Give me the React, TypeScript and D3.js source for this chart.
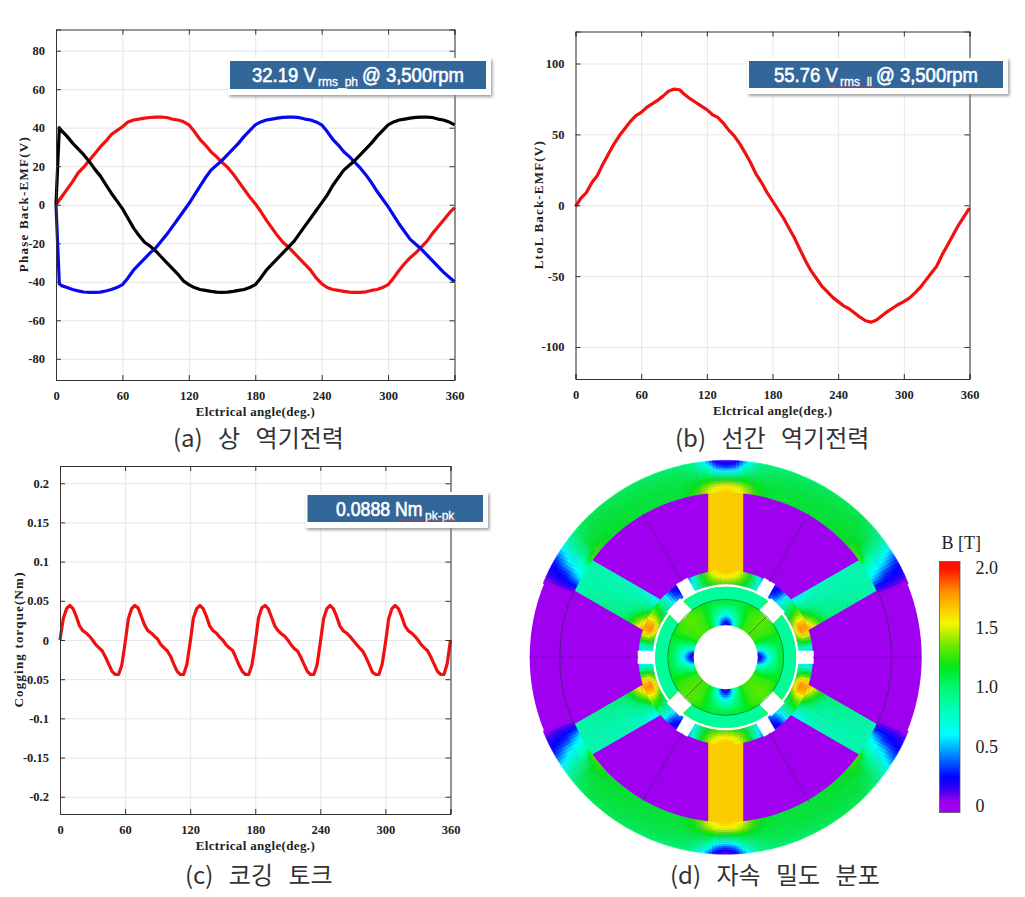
import * as d3 from "d3";
import { useEffect, useRef } from "react";

const xTicks = [0, 60, 120, 180, 240, 300, 360];
const angles5 = d3.range(0, 365, 5);
const anglesSpike = [0, 3, ...d3.range(5, 365, 5)];
const angles3 = d3.range(0, 363, 3);

// phase back-EMF (V)
const phaseRed = [
  0, 4, 8, 12, 16.5, 19.5, 23, 26.5, 30, 33, 36.5, 38.5, 40.5, 43, 44, 44.5, 45, 45.3, 45.5, 45.5, 45.3, 44.5, 44, 43.2, 41.5,
  38, 34, 31, 27.5, 25, 22, 19.5, 16, 12, 8, 4, 0.5, -3.5, -8, -12, -16, -19.5, -22, -25, -28, -31, -34, -38, -41, -43, -44,
  -44.5, -45, -45.4, -45.5, -45.5, -45.2, -44.5, -44, -43, -41.5, -38, -34, -30.5, -27.5, -25, -22, -19, -15, -11.5, -8,
  -4.5, -1.5,
];
const phaseBlack = [
  0, 40, 38.5, 35.5, 32, 29, 26, 22.5, 18.5, 15, 10.5, 6, 2, -2, -7, -12, -16, -19.5, -21.5, -24, -27, -30, -33, -36, -39.5,
  -41.5, -43, -44, -44.5, -45, -45.4, -45.5, -45.4, -45, -44.5, -44, -43, -41.5, -38, -34, -31, -28, -25, -22, -19, -15,
  -11, -7, -3, 1, 5, 10, 14, 18, 20.5, 23, 26, 29, 32, 35.5, 38.5, 41.5, 43, 44, 44.5, 45, 45.4, 45.5, 45.5, 45.3, 44.5, 44,
  43, 41.5,
];
const phaseBlue = [
  0, -41, -42, -43, -44, -44.7, -45.3, -45.5, -45.5, -45.4, -44.8, -44, -43, -41.5, -38, -34, -31, -28, -25, -22.5, -19,
  -15.5, -11.5, -7.5, -3.5, 0.5, 5, 9.5, 14, 18, 20.5, 23, 26, 29, 32, 35.5, 38.5, 41.5, 43, 44, 44.5, 45, 45.4, 45.5, 45.5,
  45.2, 44.5, 44, 43, 41.5, 38, 34, 31, 27.5, 25, 22, 19, 15.5, 11.5, 7, 3, -1, -5.5, -10, -14, -18, -20.5, -23, -26, -29,
  -32, -35, -37.5, -40,
];

// line-to-line back-EMF (V)
const lineToLine = [
  -1, 5, 9, 16, 21, 29, 36, 43, 49, 54, 59, 63, 65.5, 69, 71.5, 74, 77, 80.5, 82, 81.5, 78, 75, 72.5, 70, 67.5, 64, 62, 58,
  53, 49, 43.5, 37, 30, 22, 16, 9, 3, -3, -9, -16, -23, -31, -39, -46, -51.5, -57, -61, -65, -68, -71, -73, -76, -79, -81.5,
  -82.5, -81, -78, -75, -72.5, -70, -68, -65.5, -62, -58, -53, -48, -43, -35, -28, -21, -14, -8, -2,
];

// cogging torque (Nm)
const cogging = [
  0, 0.027, 0.04, 0.044, 0.04, 0.03, 0.018, 0.012, 0.009, 0.005, 0, -0.006, -0.01, -0.014, -0.022, -0.031, -0.04, -0.044, -0.044, -0.032,
  -0.004, 0.027, 0.04, 0.044, 0.041, 0.03, 0.019, 0.012, 0.009, 0.005, 0.001, -0.006, -0.01, -0.014, -0.021, -0.031, -0.04, -0.044, -0.044, -0.031,
  -0.003, 0.028, 0.04, 0.044, 0.04, 0.03, 0.018, 0.012, 0.009, 0.004, 0, -0.006, -0.01, -0.013, -0.022, -0.032, -0.04, -0.044, -0.044, -0.032,
  -0.004, 0.028, 0.041, 0.044, 0.04, 0.029, 0.018, 0.012, 0.008, 0.005, 0, -0.006, -0.011, -0.014, -0.022, -0.031, -0.04, -0.044, -0.044, -0.032,
  -0.003, 0.027, 0.04, 0.044, 0.04, 0.03, 0.018, 0.012, 0.009, 0.005, 0, -0.005, -0.01, -0.014, -0.022, -0.031, -0.041, -0.044, -0.044, -0.031,
  -0.004, 0.027, 0.04, 0.044, 0.04, 0.03, 0.018, 0.012, 0.009, 0.005, 0, -0.006, -0.01, -0.014, -0.022, -0.031, -0.04, -0.044, -0.044, -0.03, 0,
];

// flux density colour map
const bLevels = [0, 0.05, 0.12, 0.24, 0.42, 0.6, 0.8, 1.0, 1.17, 1.35, 1.54, 1.8, 2.0];
const bColors = ["#a000f0", "#9800ec", "#4400f0", "#0000ff", "#0080ff", "#00ffff", "#00ffb8", "#00f870", "#00e818", "#70e800", "#f8f800", "#ff9000", "#ff1000"];
const bTicks = [0, 0.5, 1.0, 1.5, 2.0];
const bColor = d3.scaleLinear<string>().domain(bLevels).range(bColors).clamp(true);

// flux density readings, one quadrant (radius in px of the drawn motor, angle in deg)
const yokeRadii = [166, 172, 178, 184, 190, 196];
const yokeAngles = [22, 24, 26, 28, 30, 33, 36, 40, 45, 60, 75, 80, 84, 87, 90];
const yokeB = [
  [0, 0.12, 0.3, 0.55, 0.65, 0.8, 1.3, 1.25, 1.15, 1.12, 1.12, 1.25, 1.5, 1.6, 1.65],
  [0, 0.15, 0.28, 0.45, 0.6, 0.75, 1.0, 1.2, 1.15, 1.12, 1.12, 1.2, 1.4, 1.5, 1.52],
  [0, 0.15, 0.25, 0.35, 0.55, 0.72, 0.92, 1.12, 1.12, 1.12, 1.1, 1.12, 1.15, 1.2, 1.2],
  [0, 0.15, 0.24, 0.3, 0.5, 0.7, 0.9, 1.08, 1.12, 1.1, 1.08, 1.05, 1.0, 0.85, 0.8],
  [0, 0.12, 0.22, 0.27, 0.4, 0.62, 0.85, 1.04, 1.1, 1.08, 1.05, 1.0, 0.8, 0.45, 0.35],
  [0, 0.1, 0.2, 0.24, 0.32, 0.55, 0.8, 1.0, 1.08, 1.05, 1.0, 0.95, 0.55, 0.22, 0.12],
];
const shoeRadii = [73, 80, 87];
const shoeAngles = [0, 5, 8, 12, 16, 20, 24, 28, 32, 38, 44, 50, 55, 60, 65, 70, 75, 80, 85, 90];
const shoeB = [
  [0.7, 0.7, 0.85, 1.1, 1.3, 1.45, 1.4, 1.25, 1.1, 0.95, 0.75, 0.5, 0.4, 0.45, 0.65, 0.95, 1.1, 1.2, 1.25, 1.3],
  [0.55, 0.65, 0.9, 1.25, 1.6, 1.8, 1.75, 1.5, 1.25, 1.0, 0.7, 0.35, 0.25, 0.35, 0.6, 0.95, 1.2, 1.4, 1.5, 1.55],
  [0.5, 0.55, 0.85, 1.2, 1.55, 1.78, 1.72, 1.5, 1.35, 1.1, 0.7, 0.28, 0.18, 0.25, 0.5, 0.95, 1.25, 1.5, 1.65, 1.7],
];
const spokeAlong = [82, 88, 94, 100, 110, 160, 168, 178];
const spokeAcross = [-17.5, -9, 0, 9, 17.5];
const spokeB = [
  [0.45, 0.85, 1.3, 1.6, 1.78],
  [0.55, 0.85, 1.2, 1.5, 1.7],
  [0.6, 0.8, 1.05, 1.3, 1.45],
  [0.7, 0.82, 0.95, 1.1, 1.2],
  [0.78, 0.82, 0.86, 0.92, 1.0],
  [0.84, 0.84, 0.84, 0.84, 0.84],
  [0.84, 0.82, 0.8, 0.78, 0.8],
  [0.8, 0.75, 0.7, 0.6, 0.6],
];
const coreRadii = [33, 38, 43, 48, 53, 58];
const coreAngles = [0, 6, 12, 20, 30, 45];
const coreB = [
  [0.12, 0.25, 0.55, 0.95, 1.25, 1.3],
  [0.35, 0.45, 0.65, 1.0, 1.25, 1.3],
  [0.62, 0.7, 0.85, 1.05, 1.25, 1.32],
  [0.85, 0.88, 0.95, 1.1, 1.27, 1.32],
  [1.05, 1.05, 1.05, 1.12, 1.25, 1.32],
  [1.1, 1.1, 1.1, 1.12, 1.2, 1.3],
];
const sidePoles = [30, 150, 210, 330];
const verticalPoles = [90, 270];
const statorSlots = [0, 60, 120, 180, 240, 300];
const rotorSlots = [45, 135, 225, 315];
const magnets = [0, 90, 180, 270];

const arcPath = d3.arc();
const sector = (r0: number, r1: number, a0: number, a1: number) =>
  arcPath({
    innerRadius: r0,
    outerRadius: r1,
    startAngle: ((90 - a1) * Math.PI) / 180,
    endAngle: ((90 - a0) * Math.PI) / 180,
  }) as string;

const indexOf = (list: number[]) =>
  d3.scaleLinear().domain(list).range(list.map((_, i) => i)).clamp(true);

// bilinear lookup in a reading table
const lookup = (rows: number[], cols: number[], table: number[][]) => {
  const ri = indexOf(rows);
  const ci = indexOf(cols);
  return (r: number, c: number) => {
    const a = ri(r);
    const b = ci(c);
    const a0 = Math.floor(a);
    const b0 = Math.floor(b);
    const a1 = Math.min(a0 + 1, rows.length - 1);
    const b1 = Math.min(b0 + 1, cols.length - 1);
    const top = table[a0][b0] + (table[a0][b1] - table[a0][b0]) * (b - b0);
    const low = table[a1][b0] + (table[a1][b1] - table[a1][b0]) * (b - b0);
    return top + (low - top) * (a - a0);
  };
};

const fold = (t: number) => {
  const a = ((t % 360) + 360) % 360;
  const h = a > 180 ? 360 - a : a;
  return h > 90 ? 180 - h : h;
};
const fold45 = (t: number) => {
  const f = fold(t);
  return f > 45 ? 90 - f : f;
};

const yokeAt = lookup(yokeRadii, yokeAngles, yokeB);
const coreAt = lookup(coreRadii, coreAngles, coreB);
const shoeAt = lookup(shoeRadii, shoeAngles, shoeB);
const spokeAt = lookup(spokeAlong, spokeAcross, spokeB);

const yokeCells = [...d3.range(22, 158, 1), ...d3.range(202, 338, 1)].flatMap((t) =>
  d3.range(165, 196, 2).map((r) => ({
    d: sector(r, r + 2, t, t + 1),
    fill: bColor(yokeAt(r + 1, fold(t + 0.5))),
  }))
);
const shoeCells = d3.range(0, 360, 2).flatMap((t) =>
  d3.range(73, 87, 2).map((r) => ({
    d: sector(r, r + 2, t, t + 2),
    fill: bColor(shoeAt(r + 1, fold(t + 1))),
  }))
);
const coreCells = d3.range(0, 360, 2).flatMap((t) =>
  d3.range(32, 58, 2).map((r) => ({
    d: sector(r, r + 2, t, t + 2),
    fill: bColor(coreAt(r + 1, fold45(t + 1))),
  }))
);
const spokeCells = d3.range(80, 176, 3).flatMap((u) =>
  d3.range(-17.5, 17.5, 2.5).map((v) => ({ u, v, fill: bColor(spokeAt(u + 1.5, v + 1.25)) }))
);

interface Series {
  xs: number[];
  ys: number[];
  color: string;
}

interface PanelProps {
  box: { left: number; right: number; top: number; bottom: number };
  yDomain: [number, number];
  yTicks: number[];
  yTitle: string;
  yTitleX: number;
  yTitleLength: number;
  series: Series[];
}

const LinePanel = ({ box, yDomain, yTicks, yTitle, yTitleX, yTitleLength, series }: PanelProps) => {
  const ref = useRef<SVGGElement>(null);
  const { left, right, top, bottom } = box;

  useEffect(() => {
    const g = d3.select(ref.current);
    g.selectAll("*").remove();
    const x = d3.scaleLinear().domain([0, 360]).range([left, right]);
    const y = d3.scaleLinear().domain(yDomain).range([bottom, top]);

    // grid
    const grid = g.append("g");
    grid
      .append("g")
      .attr("transform", `translate(${left},0)`)
      .call(d3.axisLeft(y).tickValues(yTicks).tickSize(left - right).tickFormat(() => ""));
    grid
      .append("g")
      .attr("transform", `translate(0,${bottom})`)
      .call(d3.axisBottom(x).tickValues(xTicks).tickSize(top - bottom).tickFormat(() => ""));
    grid.selectAll(".domain").remove();
    grid.selectAll("line").attr("stroke", "#e6e6e6");

    // lines
    const line = d3.line<[number, number]>().x((d) => x(d[0])).y((d) => y(d[1]));
    series.forEach((s) => {
      g.append("path")
        .attr("d", line(s.xs.map((v, i) => [v, s.ys[i]] as [number, number])))
        .attr("fill", "none")
        .attr("stroke", s.color)
        .attr("stroke-width", 3.2)
        .attr("stroke-linejoin", "round");
    });

    // box with inward ticks on all sides
    const sides = [
      d3.axisLeft(y).tickValues(yTicks).tickSize(-5).tickPadding(11).tickFormat((d) => String(d)),
      d3.axisRight(y).tickValues(yTicks).tickSize(-5).tickFormat(() => ""),
      d3.axisTop(x).tickValues(xTicks).tickSize(-5).tickFormat(() => ""),
      d3.axisBottom(x).tickValues(xTicks).tickSize(-5).tickPadding(11).tickFormat((d) => String(d)),
    ];
    const offsets = [`${left},0`, `${right},0`, `0,${top}`, `0,${bottom}`];
    sides.forEach((axis, i) => {
      const a = g.append("g").attr("transform", `translate(${offsets[i]})`).call(axis as any);
      a.selectAll("path,line").attr("stroke", "#333");
      a.selectAll("text")
        .attr("fill", "#222")
        .style("font-family", "'Liberation Serif'")
        .style("font-weight", "bold")
        .style("font-size", "12.5px");
    });
  }, []);

  const midY = (top + bottom) / 2;
  return (
    <g>
      <g ref={ref} />
      <text
        x={(left + right) / 2}
        y={bottom + 36}
        textAnchor="middle"
        fontFamily="'Liberation Serif'"
        fontWeight="bold"
        fontSize={13}
        fill="#222"
        textLength={119}
      >
        Elctrical angle(deg.)
      </text>
      <text
        transform={`translate(${yTitleX},${midY}) rotate(-90)`}
        textAnchor="middle"
        fontFamily="'Liberation Serif'"
        fontWeight="bold"
        fontSize={13}
        fill="#222"
        textLength={yTitleLength}
      >
        {yTitle}
      </text>
    </g>
  );
};

// blue value box pasted over the plots; each part is [text, x, font size]
const Badge = ({ x, y, w, h, pad, parts, wavy }: any) => (
  <g>
    <rect x={x - 2} y={y - 3} width={w + pad + 2} height={h + 9} fill="#fff" filter="url(#shadow)" />
    <rect x={x} y={y} width={w} height={h} fill="#336699" />
    {parts.map(([label, px, size]: [string, number, number], i: number) => (
      <text
        key={i}
        transform={`translate(${px},${i === 1 ? y + 25 : y + 21}) scale(1,1.14)`}
        fill="#fff"
        stroke="#fff"
        strokeWidth={i === 1 ? 0.3 : 0.55}
        fontFamily="'Liberation Sans'"
        fontSize={size}
      >
        {label}
      </text>
    ))}
    <line x1={wavy[0]} x2={wavy[1]} y1={wavy[2]} y2={wavy[2]} stroke="#e03030" strokeWidth={1} strokeDasharray="1.5 1" />
  </g>
);

const Caption = ({ x, y, children }: any) => (
  <text
    x={x}
    y={y}
    fontFamily="'Noto Sans CJK KR'"
    fontSize={24}
    wordSpacing={10}
    fill="#333"
  >
    {children}
  </text>
);

const Motor = ({ cx, cy }: { cx: number; cy: number }) => (
  <g transform={`translate(${cx},${cy})`} filter="url(#soft)">
    <circle r={196} fill={bColor(0)} />
    {sidePoles.map((a) => {
      const flip = a === 150 || a === 330 ? -1 : 1;
      return (
        <g key={a} transform={`rotate(${-a}) scale(1,${flip})`}>
          {spokeCells.map((c, i) => (
            <rect key={i} x={c.u} y={c.v} width={3.3} height={2.8} fill={c.fill} />
          ))}
        </g>
      );
    })}
    {verticalPoles.map((a) => (
      <rect key={a} transform={`rotate(${-a})`} x={80} y={-17.5} width={90} height={35} fill={bColor(1.65)} />
    ))}
    {yokeCells.map((c, i) => (
      <path key={i} d={c.d} fill={c.fill} stroke={c.fill} strokeWidth={0.4} />
    ))}
    {shoeCells.map((c, i) => (
      <path key={i} d={c.d} fill={c.fill} stroke={c.fill} strokeWidth={0.4} />
    ))}
    {statorSlots.map((a) => (
      <rect key={a} transform={`rotate(${-a})`} x={72} y={-6.5} width={16} height={13} fill="#fff" />
    ))}
    {/* air gap */}
    <circle r={73} fill="#fff" />
    {/* rotor */}
    <circle r={70.5} fill={bColor(1.25)} />
    {magnets.map((a) => (
      <path key={a} d={sector(58, 70.5, a - 36, a + 36)} fill={bColor(0.88)} />
    ))}
    {coreCells.map((c, i) => (
      <path key={i} d={c.d} fill={c.fill} stroke={c.fill} strokeWidth={0.4} />
    ))}
    {rotorSlots.map((a) => (
      <rect key={a} transform={`rotate(${-a})`} x={57} y={-9.5} width={17} height={19} fill="#fff" />
    ))}
    <circle r={58} fill="none" stroke="#204030" strokeWidth={0.5} />
    <circle r={32} fill="#fff" />
    {[45, 225].map((a) => (
      <line key={a} transform={`rotate(${-a})`} x1={32} x2={58} stroke="#204030" strokeWidth={0.5} />
    ))}
    {/* mesh boundaries */}
    <g fill="none" stroke="#50208a" strokeWidth={0.7}>
      {[0, 180].map((a) => (
        <line key={a} transform={`rotate(${-a})`} x1={87} x2={196} />
      ))}
      {[60, 120, 240, 300].map((a) => (
        <line key={a} transform={`rotate(${-a})`} x1={87} x2={166} />
      ))}
      <path d={sector(166, 166, -24, 24)} />
      <path d={sector(166, 166, 156, 204)} />
    </g>
  </g>
);

const ColorBar = ({ x, y0, y1, width }: { x: number; y0: number; y1: number; width: number }) => {
  const scale = d3.scaleLinear().domain([0, 2]).range([y0, y1]);
  const pad = 6.5;
  const low = scale.invert(y0 + pad);
  const high = scale.invert(y1 - pad);
  const stops = d3.range(low, high + 0.01, 0.05);
  return (
    <g>
      <defs>
        <linearGradient id="bbar" x1="0" x2="0" y1="1" y2="0">
          {stops.map((v) => (
            <stop key={v} offset={(v - low) / (high - low)} stopColor={bColor(Math.max(v, 0))} />
          ))}
        </linearGradient>
      </defs>
      <rect x={x} y={y1 - pad} width={width} height={y0 - y1 + 2 * pad} fill="url(#bbar)" stroke="#555" strokeWidth={0.8} />
      {bTicks.map((t) => (
        <text
          key={t}
          x={x + 36}
          y={scale(t) + 6}
          fontFamily="'Liberation Serif'"
          fontSize={18}
          fill="#222"
        >
          {t === 0 ? "0" : t.toFixed(1)}
        </text>
      ))}
      <text x={x + 2} y={549} fontFamily="'Liberation Serif'" fontSize={18} fill="#222">
        B [T]
      </text>
    </g>
  );
};

export default function App() {
  return (
    <svg width={1025} height={897} style={{ position: "absolute", left: 0, top: 0, background: "#fff" }}>
      <defs>
        <filter id="shadow" x="-5%" y="-20%" width="112%" height="150%">
          <feDropShadow dx={1.5} dy={2} stdDeviation={1.5} floodColor="#888" floodOpacity={0.8} />
        </filter>
        <filter id="soft" x="-5%" y="-5%" width="110%" height="110%">
          <feGaussianBlur stdDeviation={0.6} />
        </filter>
      </defs>

      <LinePanel
        box={{ left: 56, right: 454.5, top: 29.5, bottom: 380 }}
        yDomain={[-91, 91]}
        yTicks={[-80, -60, -40, -20, 0, 20, 40, 60, 80]}
        yTitle="Phase Back-EMF(V)"
        yTitleX={28}
        yTitleLength={135}
        series={[
          { xs: angles5, ys: phaseRed, color: "#f01010" },
          { xs: anglesSpike, ys: phaseBlue, color: "#0808f0" },
          { xs: anglesSpike, ys: phaseBlack, color: "#000" },
        ]}
      />
      <Badge
        x={230}
        y={61}
        w={256}
        h={28}
        pad={5}
        parts={[["32.19 V", 252, 18.5], ["rms_ph", 318, 12], ["@ 3,500rpm", 362, 18.5]]}
        wavy={[305, 359, 87.5]}
      />
      <Caption x={173} y={447}>(a) 상 역기전력</Caption>

      <LinePanel
        box={{ left: 575.5, right: 969.5, top: 31.5, bottom: 379 }}
        yDomain={[-122.6, 122.6]}
        yTicks={[-100, -50, 0, 50, 100]}
        yTitle="LtoL Back-EMF(V)"
        yTitleX={543}
        yTitleLength={128}
        series={[{ xs: angles5, ys: lineToLine, color: "#f01010" }]}
      />
      <Badge
        x={749}
        y={61}
        w={254}
        h={27}
        pad={5}
        parts={[["55.76 V", 774, 18.5], ["rms_ll", 840, 12], ["@ 3,500rpm", 876, 18.5]]}
        wavy={[827, 873, 87]}
      />
      <Caption x={675} y={447}>(b) 선간 역기전력</Caption>

      <LinePanel
        box={{ left: 60, right: 450.5, top: 466, bottom: 814 }}
        yDomain={[-0.222, 0.222]}
        yTicks={[-0.2, -0.15, -0.1, -0.05, 0, 0.05, 0.1, 0.15, 0.2]}
        yTitle="Cogging torque(Nm)"
        yTitleX={23}
        yTitleLength={135}
        series={[{ xs: angles3, ys: cogging, color: "#f01010" }]}
      />
      <Badge
        x={307.5}
        y={495}
        w={175.5}
        h={27}
        pad={5}
        parts={[["0.0888 Nm", 336, 17.7], ["pk-pk", 425, 12]]}
        wavy={[397, 457, 520]}
      />
      <Caption x={185} y={884}>(c) 코깅 토크</Caption>

      <Motor cx={725.7} cy={657.3} />
      <ColorBar x={939.5} y0={806} y1={568} width={20.5} />
      <Caption x={670} y={884}>(d) 자속 밀도 분포</Caption>
    </svg>
  );
}
